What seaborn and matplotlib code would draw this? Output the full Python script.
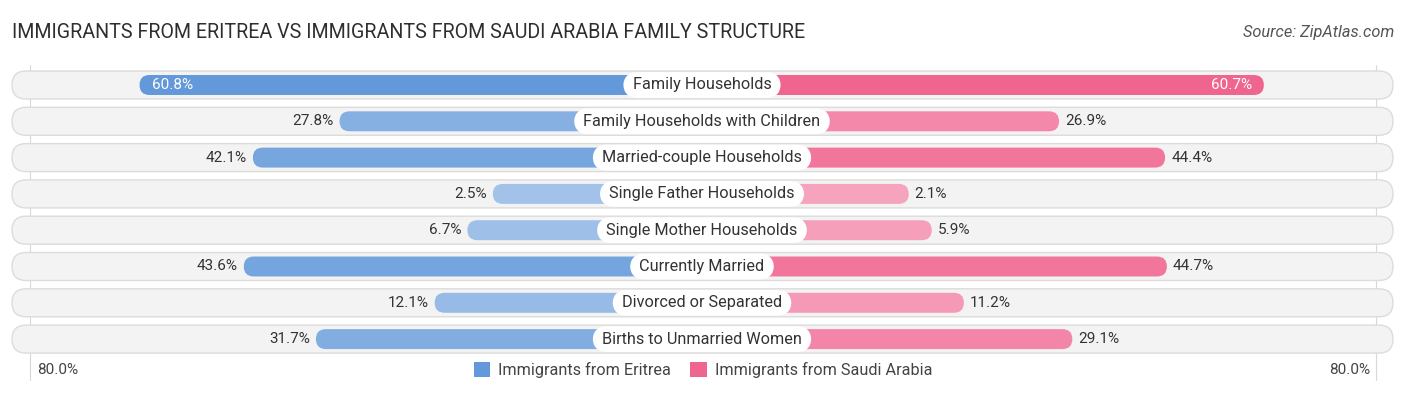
import numpy as np
import pandas as pd
import matplotlib
matplotlib.use("Agg")
import matplotlib.pyplot as plt
import seaborn as sns
from matplotlib.patches import FancyBboxPatch, Patch
from matplotlib.colors import to_rgb

# data
categories = [
    "Family Households",
    "Family Households with Children",
    "Married-couple Households",
    "Single Father Households",
    "Single Mother Households",
    "Currently Married",
    "Divorced or Separated",
    "Births to Unmarried Women",
]
eritrea = [60.8, 27.8, 42.1, 2.5, 6.7, 43.6, 12.1, 31.7]
saudi = [60.7, 26.9, 44.4, 2.1, 5.9, 44.7, 11.2, 29.1]
series_names = ["Immigrants from Eritrea", "Immigrants from Saudi Arabia"]
axis_label = "80.0%"

BLUE = "#6399da"
PINK = "#f06490"

W, H = 1406, 395
CX = 702          # center in px
PX = 6.06         # px per percent
OFF = 194 / PX    # bars start behind the label box
ROW0, ROWSTEP = 85, 36.3

sns.set_theme(style="white")
plt.rcParams["font.family"] = ["Roboto", "DejaVu Sans"]

fig = plt.figure(figsize=(W / 100, H / 100), dpi=100)
ax = fig.add_axes([0, 0, 1, 1])

df = pd.DataFrame({
    "cat": categories * 2,
    "val": [-(v + OFF) for v in eritrea] + [v + OFF for v in saudi],
    "grp": [series_names[0]] * len(categories) + [series_names[1]] * len(categories),
})
sns.barplot(data=df, x="val", y="cat", hue="grp", order=categories,
            palette=[BLUE, PINK], dodge=False, orient="h", width=0.55,
            legend=False, ax=ax)

xl = -CX / PX
xr = (W - CX) / PX
ax.set_xlim(xl, xr)
ax.set_ylim((H - ROW0) / ROWSTEP, -ROW0 / ROWSTEP)
ax.axis("off")
aspect = PX / ROWSTEP


def lighten(c, t):
    r = np.array(to_rgb(c))
    return tuple(r + (1 - r) * t)


# swap seaborn rectangles for rounded ones
rects = list(ax.patches)
for p in rects:
    x, y, w, h = p.get_x(), p.get_y(), p.get_width(), p.get_height()
    p.remove()
    if abs(w) < 1e-9:
        continue
    left, width = min(x, x + w), abs(w)
    val = width - OFF
    base = BLUE if x + w < 0 else PINK
    t = 0.42 * (1 - min(val, 60) / 60)
    ax.add_patch(FancyBboxPatch((left, y), width, h,
                                boxstyle="round,pad=0,rounding_size=%f" % (10 / PX),
                                mutation_aspect=aspect, fc=lighten(base, t),
                                ec="none", zorder=3))

# background pills and faint guide lines
bg_l, bg_r = (12 - CX) / PX, (1393 - CX) / PX
bh = 28 / ROWSTEP
for i in range(len(categories)):
    ax.add_patch(FancyBboxPatch((bg_l, i - bh / 2), bg_r - bg_l, bh,
                                boxstyle="round,pad=0,rounding_size=%f" % (14 / PX),
                                mutation_aspect=aspect, fc="#f3f3f3",
                                ec="#dcdcdc", lw=1, zorder=1))
for gx in [(30 - CX) / PX, (1376 - CX) / PX]:
    ax.plot([gx, gx], [(65 - ROW0) / ROWSTEP, (380 - ROW0) / ROWSTEP],
            color="#d8d8d8", lw=0.8, zorder=0.5)

# labels
for i, (cat, e, s) in enumerate(zip(categories, eritrea, saudi)):
    ax.text(0, i, " " + cat + " ", ha="center", va="center", fontsize=11.7,
            color="#333333", zorder=6,
            bbox=dict(boxstyle="round,pad=0.33,rounding_size=0.9", fc="white", ec="none"))
    le, rs = -(e + OFF), s + OFF
    if e > 50:
        ax.text(le + 12 / PX, i, f"{e:.1f}%", ha="left", va="center",
                fontsize=11, color="white", zorder=6)
    else:
        ax.text(le - 6 / PX, i, f"{e:.1f}%", ha="right", va="center",
                fontsize=11, color="#333333", zorder=6)
    if s > 50:
        ax.text(rs - 12 / PX, i, f"{s:.1f}%", ha="right", va="center",
                fontsize=11, color="white", zorder=6)
    else:
        ax.text(rs + 6 / PX, i, f"{s:.1f}%", ha="left", va="center",
                fontsize=11, color="#333333", zorder=6)

ly = (370 - ROW0) / ROWSTEP
ax.text((37 - CX) / PX, ly, axis_label, ha="left", va="center", fontsize=11, color="#444444")
ax.text((1370 - CX) / PX, ly, axis_label, ha="right", va="center", fontsize=11, color="#444444")

handles = [Patch(fc=BLUE, ec="none", label=series_names[0]),
           Patch(fc=PINK, ec="none", label=series_names[1])]
fig.legend(handles=handles, loc="center", bbox_to_anchor=(0.5, 1 - 370 / H), ncol=2,
           frameon=False, fontsize=11.7, handlelength=1.0, handleheight=1.0,
           handletextpad=0.5, columnspacing=1.2, labelcolor="#444444")

fig.text(12 / W, 1 - 33 / H,
         "IMMIGRANTS FROM ERITREA VS IMMIGRANTS FROM SAUDI ARABIA FAMILY STRUCTURE",
         ha="left", va="center", fontsize=14.1, color="#2e2e2e")
fig.text(1394 / W, 1 - 33 / H, "Source: ZipAtlas.com", ha="right", va="center",
         fontsize=11.8, color="#555555", style="italic")

fig.savefig("out.png", dpi=100)
